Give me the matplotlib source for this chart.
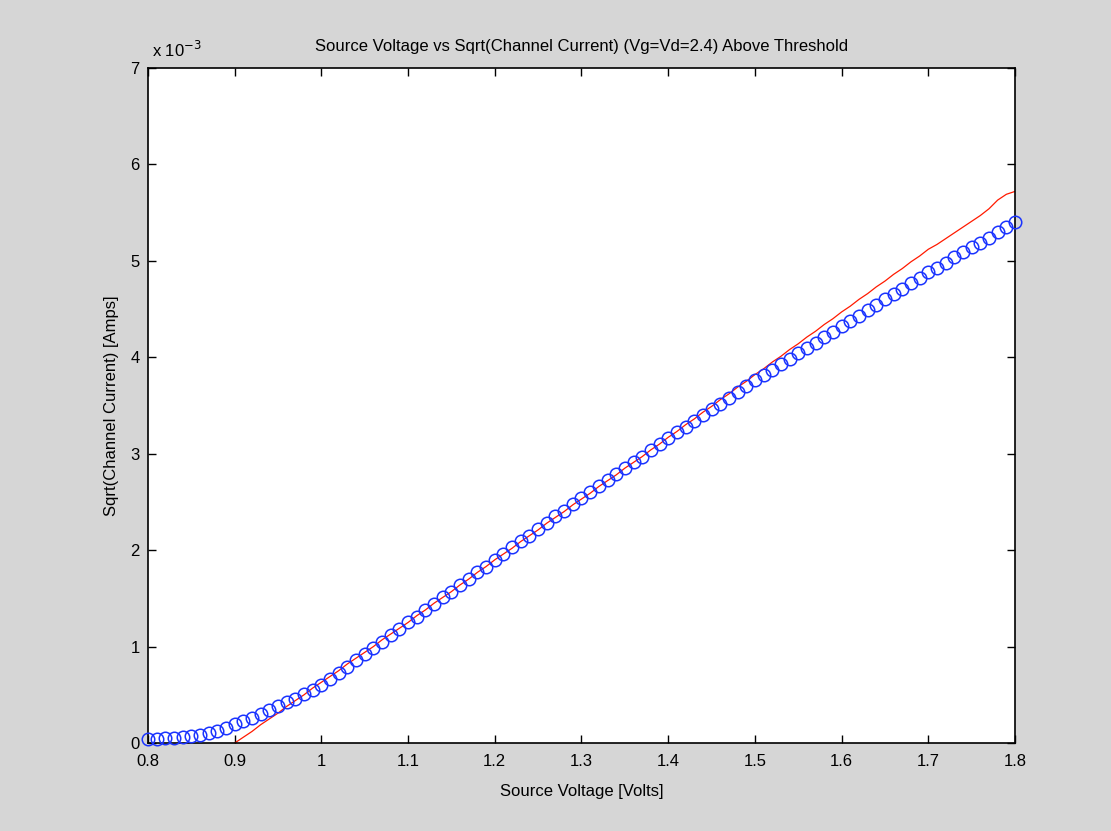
import numpy as np
import matplotlib
matplotlib.use("Agg")
import matplotlib.pyplot as plt

# source voltage sweep [V]
vs_meas = [0.80, 0.81, 0.82, 0.83, 0.84, 0.85, 0.86, 0.87, 0.88, 0.89,
           0.90, 0.91, 0.92, 0.93, 0.94, 0.95, 0.96, 0.97, 0.98, 0.99,
           1.00, 1.01, 1.02, 1.03, 1.04, 1.05, 1.06, 1.07, 1.08, 1.09,
           1.10, 1.11, 1.12, 1.13, 1.14, 1.15, 1.16, 1.17, 1.18, 1.19,
           1.20, 1.21, 1.22, 1.23, 1.24, 1.25, 1.26, 1.27, 1.28, 1.29,
           1.30, 1.31, 1.32, 1.33, 1.34, 1.35, 1.36, 1.37, 1.38, 1.39,
           1.40, 1.41, 1.42, 1.43, 1.44, 1.45, 1.46, 1.47, 1.48, 1.49,
           1.50, 1.51, 1.52, 1.53, 1.54, 1.55, 1.56, 1.57, 1.58, 1.59,
           1.60, 1.61, 1.62, 1.63, 1.64, 1.65, 1.66, 1.67, 1.68, 1.69,
           1.70, 1.71, 1.72, 1.73, 1.74, 1.75, 1.76, 1.77, 1.78, 1.79,
           1.80]

# measured sqrt(Ichannel), units of 1e-3 sqrt(A)
sqrt_id_meas = [0.04, 0.04, 0.05, 0.05, 0.06, 0.07, 0.08, 0.10, 0.12, 0.16,
                0.20, 0.23, 0.26, 0.30, 0.34, 0.38, 0.42, 0.46, 0.51, 0.55,
                0.60, 0.66, 0.73, 0.79, 0.86, 0.92, 0.99, 1.05, 1.12, 1.18,
                1.25, 1.31, 1.38, 1.44, 1.51, 1.57, 1.64, 1.70, 1.77, 1.83,
                1.90, 1.96, 2.03, 2.09, 2.15, 2.22, 2.28, 2.35, 2.41, 2.48,
                2.54, 2.60, 2.66, 2.73, 2.79, 2.85, 2.91, 2.97, 3.04, 3.10,
                3.16, 3.22, 3.28, 3.34, 3.40, 3.46, 3.52, 3.58, 3.64, 3.70,
                3.76, 3.82, 3.87, 3.93, 3.98, 4.04, 4.10, 4.15, 4.21, 4.26,
                4.32, 4.38, 4.43, 4.49, 4.54, 4.60, 4.66, 4.71, 4.77, 4.82,
                4.88, 4.93, 4.98, 5.04, 5.09, 5.14, 5.19, 5.24, 5.30, 5.35,
                5.40]

# above-threshold fit, starts at Vs = 0.9
vs_fit = vs_meas[10:]
sqrt_id_fit = [0.00, 0.06, 0.12, 0.19, 0.25, 0.31, 0.38, 0.44, 0.50, 0.57,
               0.63, 0.69, 0.75, 0.82, 0.88, 0.94, 1.00, 1.07, 1.13, 1.19,
               1.25, 1.32, 1.38, 1.45, 1.51, 1.57, 1.64, 1.70, 1.77, 1.83,
               1.90, 1.96, 2.02, 2.09, 2.15, 2.21, 2.28, 2.34, 2.40, 2.47,
               2.53, 2.59, 2.66, 2.72, 2.78, 2.85, 2.91, 2.97, 3.04, 3.10,
               3.17, 3.23, 3.30, 3.36, 3.43, 3.49, 3.56, 3.62, 3.69, 3.75,
               3.82, 3.88, 3.95, 4.01, 4.08, 4.14, 4.21, 4.27, 4.34, 4.40,
               4.47, 4.53, 4.60, 4.66, 4.73, 4.79, 4.86, 4.92, 4.99, 5.05,
               5.12, 5.17, 5.23, 5.29, 5.35, 5.41, 5.47, 5.54, 5.63, 5.69,
               5.72]

xticks = [0.8, 0.9, 1.0, 1.1, 1.2, 1.3, 1.4, 1.5, 1.6, 1.7, 1.8]
xticklabels = ["0.8", "0.9", "1", "1.1", "1.2", "1.3", "1.4", "1.5", "1.6", "1.7", "1.8"]
yticks = [0, 1, 2, 3, 4, 5, 6, 7]

plt.rcParams['font.family'] = ['Liberation Sans', 'DejaVu Sans']
plt.rcParams['font.size'] = 11

fig = plt.figure(figsize=(11.11, 8.31), dpi=100, facecolor='#d6d6d6')
ax = fig.add_axes([0.1332, 0.1059, 0.7804, 0.8123])
ax.set_facecolor('white')

# markers are not clipped at the axes box
ax.plot(vs_meas, sqrt_id_meas, linestyle='none', marker='o', markersize=9,
        markerfacecolor='none', markeredgecolor='#1a33ff', markeredgewidth=1.1,
        clip_on=False, zorder=3)
ax.plot(vs_fit, sqrt_id_fit, color='#ff1a00', linewidth=0.9, zorder=2)

ax.set_xlim(0.8, 1.8)
ax.set_ylim(0, 7)
ax.set_xticks(xticks)
ax.set_xticklabels(xticklabels)
ax.set_yticks(yticks)
ax.tick_params(direction='in', length=6, width=1, top=True, right=True,
               labelsize=12)
ax.tick_params(axis='x', pad=8)
ax.tick_params(axis='y', pad=6)
for s in ax.spines.values():
    s.set_linewidth(1.2)

ax.set_title('Source Voltage vs Sqrt(Channel Current) (Vg=Vd=2.4) Above Threshold',
             fontsize=12, pad=12)
ax.set_xlabel('Source Voltage [Volts]', fontsize=12, labelpad=11)
ax.set_ylabel('Sqrt(Channel Current) [Amps]', fontsize=12, labelpad=8)

# exponent marker for the y axis
ax.text(0.005, 1.012, r'x 10$^{-3}$', transform=ax.transAxes,
        fontsize=12, ha='left', va='bottom')

fig.savefig('out.png', dpi=100, facecolor=fig.get_facecolor())
